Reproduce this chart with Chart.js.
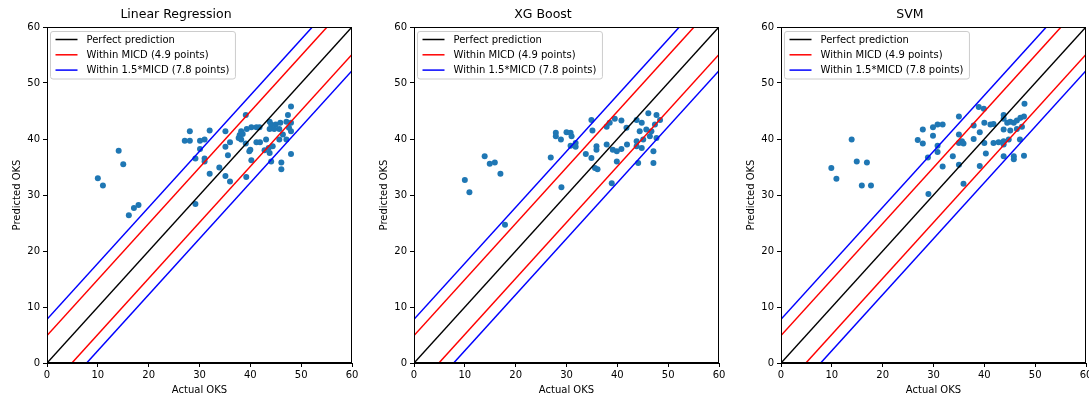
<!DOCTYPE html>
<html>
<head>
<meta charset="utf-8">
<script src="https://cdn.jsdelivr.net/npm/chart.js@4"></script>
<style>
html,body{margin:0;padding:0;background:#fff;}
#wrap{position:relative;width:1089px;height:398px;overflow:hidden;}
canvas{position:absolute;top:0;}
</style>
</head>
<body>
<div id="wrap">
<canvas id="c0" width="367" height="398" style="left:0px"></canvas>
<canvas id="c1" width="367" height="398" style="left:367px"></canvas>
<canvas id="c2" width="367" height="398" style="left:734px"></canvas>
</div>
<script>
// ---- data ----
const titles = ["Linear Regression", "XG Boost", "SVM"];
const axisTicks = [0, 10, 20, 30, 40, 50, 60];
const MICD = 4.9;
const MICD15 = 7.8;

const lrActual = [10.0,11.0,14.1,15.0,16.1,17.1,18.0,27.1,28.1,28.1,30.1,31.0,32.0,30.1,29.2,31.0,31.0,32.0,29.2,33.9,35.1,35.1,36.0,35.1,36.0,35.6,37.9,38.2,38.5,39.1,39.3,40.2,41.2,41.8,38.2,39.1,40.0,41.2,41.9,40.2,39.2,37.7,39.8,43.8,44.1,45.0,45.9,43.8,44.7,45.7,47.4,48.0,47.1,48.0,47.6,48.0,46.4,47.1,45.7,43.1,43.6,44.4,42.8,43.8,44.1,46.1,46.1,48.0];
const lrPred   = [33.0,31.7,37.9,35.5,26.4,27.7,28.2,39.7,41.4,39.7,39.7,39.9,41.5,38.2,36.5,36.5,36.0,33.8,28.4,34.9,41.4,33.4,32.4,38.6,39.4,37.1,40.7,41.4,40.9,44.3,41.8,42.1,42.1,42.1,39.9,39.2,38.1,39.4,39.4,36.2,33.2,40.2,37.8,43.1,42.6,42.6,42.9,41.8,41.8,41.8,44.3,45.8,43.1,42.9,42.0,41.4,40.8,39.9,39.9,39.9,38.4,38.7,38.0,37.5,36.0,35.8,34.6,37.3];

const xgbActual = [10.0,10.9,13.9,14.9,15.9,17.0,17.9,26.9,27.9,27.9,28.9,30.0,30.8,31.0,30.8,31.8,31.8,29.0,33.8,34.9,35.1,34.9,35.9,35.9,35.6,36.1,37.9,38.5,39.5,40.8,37.9,39.1,39.9,40.8,41.9,39.9,38.9,43.8,44.8,46.1,47.7,48.4,44.4,45.7,46.7,43.8,45.1,46.4,47.7,43.8,44.8,47.1,44.1,47.1,41.8,47.4];
const xgbPred   = [32.7,30.5,36.9,35.6,35.8,33.8,24.7,36.7,41.1,40.5,39.9,41.2,41.1,40.5,38.8,39.3,38.6,31.4,37.3,43.4,41.5,36.6,38.7,38.1,34.8,34.6,42.2,42.9,43.6,43.3,39.0,38.1,37.8,38.2,39.0,36.0,32.1,43.4,42.9,44.6,44.3,43.4,41.4,41.7,41.4,39.6,39.9,40.5,40.2,38.7,38.4,37.8,35.7,35.7,42.0,42.6];

const svmActual = [9.9,10.9,13.9,14.9,16.9,15.9,17.7,27.9,26.9,27.9,29.9,30.8,31.8,29.9,30.8,30.8,28.9,31.8,29.0,33.8,35.0,35.0,35.0,35.6,35.9,35.0,35.9,37.9,37.9,38.9,39.9,39.1,40.0,41.2,41.8,40.0,39.1,41.8,42.8,43.8,40.3,43.8,43.8,44.5,45.1,45.8,46.4,47.1,47.8,47.9,43.8,45.1,46.4,47.4,43.8,44.8,47.0,43.8,45.8,45.8,47.8];
const svmPred   = [34.8,32.9,39.9,36.0,35.8,31.7,31.7,41.7,39.8,39.2,42.1,42.6,42.6,40.6,38.8,37.7,36.7,35.1,30.2,36.9,44.0,40.8,39.3,39.6,39.2,35.4,32.0,42.4,40.0,45.7,45.4,41.2,42.9,42.6,42.7,39.3,35.2,39.3,39.4,39.6,37.4,44.3,43.6,42.9,43.1,42.9,43.3,43.8,44.0,46.3,41.7,41.5,41.8,42.2,39.0,39.9,39.9,36.9,36.9,36.4,37.0];

const actualSets = [lrActual, xgbActual, svmActual];
const predSets = [lrPred, xgbPred, svmPred];

// ---- helpers ----
const FONT = '"DejaVu Sans", sans-serif';
const AX_MIN = axisTicks[0], AX_MAX = axisTicks[axisTicks.length - 1];

function offsetLine(off) {
  // y = x + off, clipped to the axis range
  const x1 = Math.max(AX_MIN, AX_MIN - off), x2 = Math.min(AX_MAX, AX_MAX - off);
  return [{x: x1, y: x1 + off}, {x: x2, y: x2 + off}];
}

const framePlugin = {
  id: 'frameLegend',
  afterDatasetsDraw(chart) {
    const {ctx, chartArea: a} = chart;
    ctx.save();
    ctx.strokeStyle = '#000';
    ctx.lineWidth = 1;
    const L = Math.round(a.left) + 0.5, T = Math.round(a.top) + 0.5;
    const R = Math.round(a.right) - 0.5, B = Math.round(a.bottom) - 0.5;
    ctx.strokeRect(L, T, R - L, B - T);

    // legend
    const items = chart.data.datasets.filter(d => d.inLegend);
    ctx.font = '10px ' + FONT;
    const tw = Math.max(...items.map(d => ctx.measureText(d.label).width));
    const x0 = a.left + 3.5, y0 = a.top + 4.5;
    const rowH = 15.3;
    const w = 36 + tw + 6, h = 47.5;
    const r = 2.5;
    ctx.beginPath();
    ctx.moveTo(x0 + r, y0);
    ctx.lineTo(x0 + w - r, y0); ctx.quadraticCurveTo(x0 + w, y0, x0 + w, y0 + r);
    ctx.lineTo(x0 + w, y0 + h - r); ctx.quadraticCurveTo(x0 + w, y0 + h, x0 + w - r, y0 + h);
    ctx.lineTo(x0 + r, y0 + h); ctx.quadraticCurveTo(x0, y0 + h, x0, y0 + h - r);
    ctx.lineTo(x0, y0 + r); ctx.quadraticCurveTo(x0, y0, x0 + r, y0);
    ctx.closePath();
    ctx.fillStyle = 'rgba(255,255,255,0.8)';
    ctx.fill();
    ctx.strokeStyle = '#cccccc';
    ctx.stroke();
    items.forEach((d, i) => {
      const y = y0 + 8 + i * rowH;
      ctx.strokeStyle = d.borderColor;
      ctx.lineWidth = 1.5;
      ctx.beginPath();
      ctx.moveTo(x0 + 5, y); ctx.lineTo(x0 + 27, y);
      ctx.stroke();
      ctx.fillStyle = '#000';
      ctx.textBaseline = 'middle';
      ctx.textAlign = 'left';
      ctx.fillText(d.label, x0 + 36, y + 0.5);
    });
    ctx.restore();
  }
};

function makeChart(idx) {
  const pts = actualSets[idx].map((v, i) => ({x: v, y: predSets[idx][i]}));
  const lineDs = (label, off, color, inLegend) => ({
    type: 'line', label, data: offsetLine(off), borderColor: color, borderWidth: 1.5,
    pointRadius: 0, fill: false, inLegend, order: 0
  });
  new Chart(document.getElementById('c' + idx), {
    type: 'scatter',
    data: {
      datasets: [
        lineDs('Perfect prediction', 0, '#000000', true),
        lineDs('Within MICD (' + MICD + ' points)', MICD, '#ff0000', true),
        lineDs('Within 1.5*MICD (' + MICD15 + ' points)', MICD15, '#0000ff', true),
        lineDs('', -MICD, '#ff0000', false),
        lineDs('', -MICD15, '#0000ff', false),
        {type: 'scatter', label: 'points', data: pts, backgroundColor: '#1f77b4',
         borderWidth: 0, pointRadius: 3, order: 1, inLegend: false}
      ]
    },
    options: {
      responsive: false,
      animation: false,
      devicePixelRatio: 1,
      layout: {padding: {left: 0, right: 15, top: 0, bottom: 0}},
      plugins: {
        legend: {display: false},
        tooltip: {enabled: false},
        title: {display: true, text: titles[idx], color: '#000',
                font: {family: FONT, size: 12.5, weight: 'normal', lineHeight: 1.2}, padding: {top: 7, bottom: 5}}
      },
      scales: {
        x: {
          type: 'linear', min: AX_MIN, max: AX_MAX,
          afterBuildTicks: s => { s.ticks = axisTicks.map(v => ({value: v})); },
          ticks: {color: '#000', font: {family: FONT, size: 10}, padding: 2, maxRotation: 0},
          grid: {drawOnChartArea: false, drawTicks: true, tickLength: 4, color: '#000'},
          border: {display: true, color: '#000', width: 1},
          title: {display: true, text: 'Actual OKS', color: '#000', font: {family: FONT, size: 10}, padding: {top: 2, bottom: 2}},
          afterFit: s => { s.height = 35; }
        },
        y: {
          type: 'linear', min: AX_MIN, max: AX_MAX,
          afterBuildTicks: s => { s.ticks = axisTicks.map(v => ({value: v})); },
          ticks: {color: '#000', font: {family: FONT, size: 10}, padding: 3},
          grid: {drawOnChartArea: false, drawTicks: true, tickLength: 4, color: '#000'},
          border: {display: true, color: '#000', width: 1},
          title: {display: true, text: 'Predicted OKS', color: '#000', font: {family: FONT, size: 10}, padding: {top: 11, bottom: 11}},
          afterFit: s => { s.width = 47; }
        }
      }
    },
    plugins: [framePlugin]
  });
}
[0, 1, 2].forEach(makeChart);
</script>
</body>
</html>
